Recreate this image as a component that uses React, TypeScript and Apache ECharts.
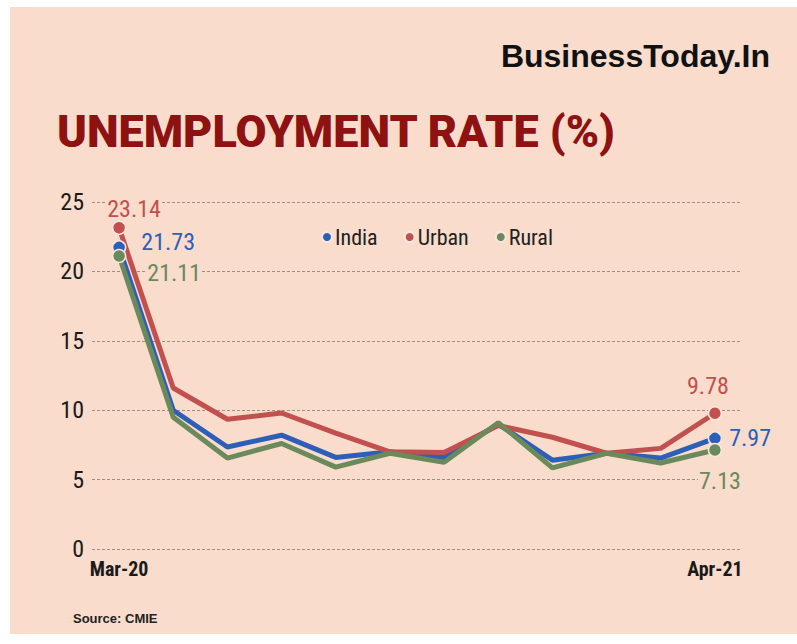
import React, { useEffect, useRef } from "react";
import * as echarts from "echarts";

const months = ["Mar-20", "May-20", "Jun-20", "Jul-20", "Aug-20", "Sep-20", "Oct-20", "Nov-20", "Dec-20", "Jan-21", "Feb-21", "Apr-21"];
const india = [21.73, 10.0, 7.35, 8.2, 6.6, 7.0, 6.6, 9.0, 6.4, 6.9, 6.55, 7.97];
const urban = [23.14, 11.6, 9.35, 9.8, 8.35, 7.0, 6.95, 8.9, 8.05, 6.9, 7.25, 9.78];
const rural = [21.11, 9.5, 6.55, 7.6, 5.9, 6.9, 6.25, 9.1, 5.85, 6.9, 6.2, 7.13];
const yTicks = [0, 5, 10, 15, 20, 25];

const BLUE = "#2d5fb8";
const RED = "#c2504f";
const GREEN = "#6a8a5b";
const BG = "#f9dccb";
const COND = "'Roboto Condensed', 'Open Sans Condensed', 'DejaVu Sans Condensed', sans-serif";

function withEnds(values: number[], color: string, firstLabel: any, lastLabel: any) {
  return values.map((v, i) => {
    if (i === 0 || i === values.length - 1) {
      const lab = i === 0 ? firstLabel : lastLabel;
      return {
        value: v,
        symbolSize: 13,
        label: {
          show: true,
          color,
          fontFamily: COND,
          fontSize: 24,
          backgroundColor: BG,
          padding: [0, 1],
          formatter: (p: any) => p.value.toFixed(2),
          ...lab,
        },
      };
    }
    return { value: v };
  });
}

export default function App() {
  const ref = useRef<HTMLDivElement>(null);
  useEffect(() => {
    document.body.style.margin = "0";
    const chart = echarts.init(ref.current!, null, { renderer: "svg" });
    const mkSeries = (name: string, data: number[], color: string, fl: any, ll: any) => ({
      name,
      type: "line",
      data: withEnds(data, color, fl, ll),
      symbol: "circle",
      symbolSize: 0,
      showSymbol: true,
      lineStyle: { color, width: 5 },
      itemStyle: { color, borderColor: "#f6e7de", borderWidth: 1.5 },
      emphasis: { disabled: true },
    });
    chart.setOption({
      animation: false,
      backgroundColor: "#ffffff",
      graphic: [
        { type: "rect", z: -10, shape: { x: 10, y: 7, width: 787, height: 627 }, style: { fill: BG } },
        {
          type: "text",
          right: 27,
          top: 40,
          style: {
            text: "BusinessToday.In",
            fill: "#111111",
            font: "bold 32px 'Liberation Sans', Arial, sans-serif",
          },
        },
        {
          type: "text",
          left: 57,
          top: 109,
          style: {
            text: "UNEMPLOYMENT RATE (%)",
            fill: "#8e1212",
            font: "900 45px Roboto, 'Liberation Sans', sans-serif",
          },
        },
        {
          type: "text",
          left: 73,
          top: 612,
          style: {
            text: "Source: CMIE",
            fill: "#222222",
            font: "bold 13px 'Liberation Sans', Arial, sans-serif",
          },
        },
      ],
      legend: {
        top: 221,
        left: 316,
        itemWidth: 10,
        itemHeight: 10,
        itemGap: 26,
        icon: "circle",
        textStyle: { fontFamily: COND, fontSize: 22, color: "#222222", padding: [0, 0, 0, -2] },
        data: ["India", "Urban", "Rural"],
      },
      grid: { left: 92, right: 55, top: 202, bottom: 95 },
      xAxis: {
        type: "category",
        data: months,
        boundaryGap: true,
        axisLine: { show: false },
        axisTick: { show: false },
        axisLabel: {
          interval: (i: number) => i === 0 || i === months.length - 1,
          fontFamily: COND,
          fontWeight: "bold",
          fontSize: 20,
          color: "#1a1a1a",
          margin: 10,
        },
      },
      yAxis: {
        type: "value",
        min: 0,
        max: 25,
        interval: 5,
        axisLine: { show: false },
        axisTick: { show: false },
        axisLabel: {
          fontFamily: COND,
          fontSize: 24,
          color: "#1a1a1a",
          margin: 8,
          formatter: (v: number) => (yTicks.includes(v) ? String(v) : ""),
        },
        splitLine: { show: true, lineStyle: { color: "#9a8f88", type: [3, 2], width: 1 } },
      },
      series: [
        mkSeries("India", india, BLUE, { position: "right", distance: 14, offset: [0, -5] }, { position: "right", distance: 6 }),
        mkSeries("Urban", urban, RED, { position: "top", distance: 4, offset: [15, 4] }, { position: "top", distance: 8, offset: [-7, 0] }),
        mkSeries("Rural", rural, GREEN, { position: "right", distance: 20, offset: [0, 17] }, { position: "bottom", distance: 12, offset: [5, 0] }),
      ],
    });
    return () => chart.dispose();
  }, []);
  return <div ref={ref} style={{ width: 797, height: 644 }} />;
}
